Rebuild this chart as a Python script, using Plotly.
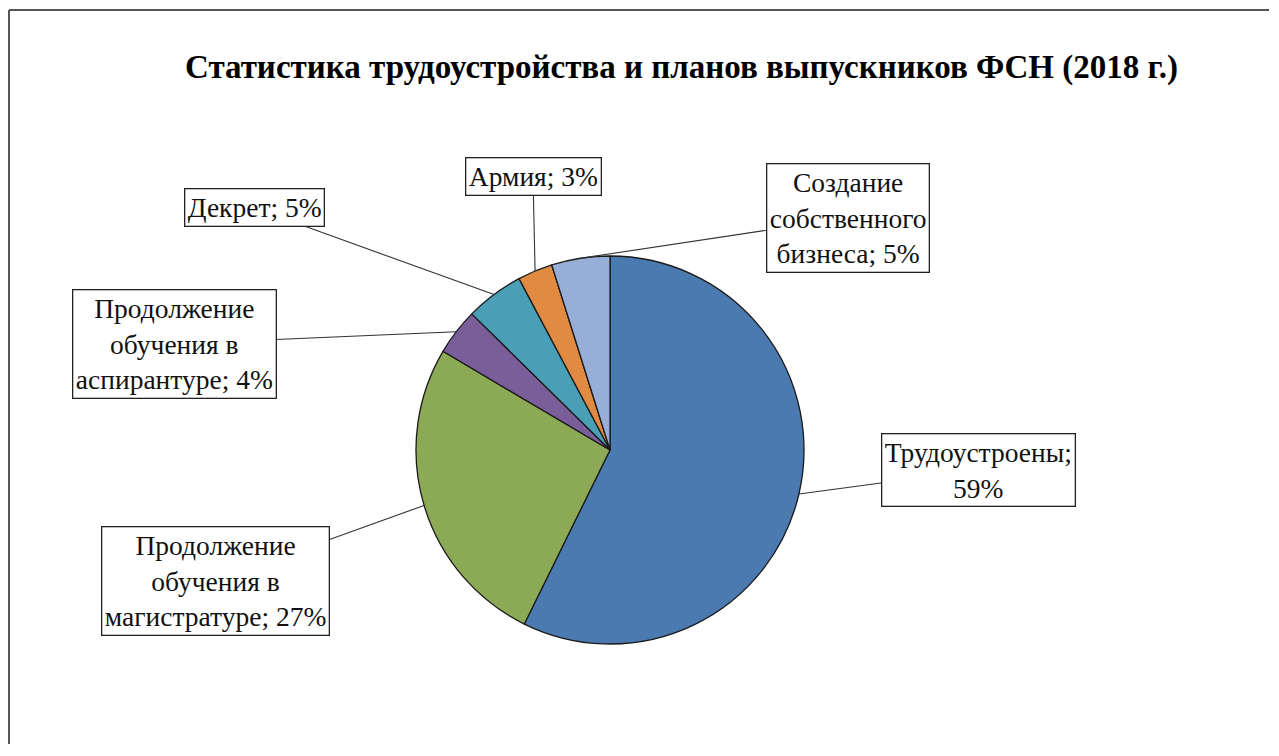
import math
import plotly.graph_objects as go

# ---- data ----
categories = ["Трудоустроены", "Продолжение обучения в магистратуре",
              "Продолжение обучения в аспирантуре", "Декрет", "Армия",
              "Создание собственного бизнеса"]
values = [59, 27, 4, 5, 3, 5]
pct_labels = ["59%", "27%", "4%", "5%", "3%", "5%"]
colors = ["#4A7AAF", "#8CAA55", "#7A5E9A", "#4A9EB5", "#E08A42", "#97AFD6"]
label_texts = ["Трудоустроены;<br>59%",
               "Продолжение<br>обучения в<br>магистратуре; 27%",
               "Продолжение<br>обучения в<br>аспирантуре; 4%",
               "Декрет; 5%", "Армия; 3%",
               "Создание<br>собственного<br>бизнеса; 5%"]

# ---- layout (screen pixels; page body has an 8px margin) ----
OFF = 8
W, H = 1279 - 2 * OFF - 2, 756 - 2 * OFF - 4
cx, cy, R = 610 - OFF, 450 - OFF, 194
label_centers = [(978, 470), (215, 581), (174, 344), (254, 208), (533, 177), (848, 218)]
FONT = "Liberation Serif, Times New Roman, serif"

fig = go.Figure(go.Pie(
    labels=categories,
    values=values,
    sort=False,
    direction="clockwise",
    rotation=0,
    marker=dict(colors=colors, line=dict(color="#1a1a1a", width=1.3)),
    textinfo="none",
    hoverinfo="label+value",
    showlegend=False,
    domain=dict(x=[(cx - R) / W, (cx + R) / W], y=[(H - cy - R) / H, (H - cy + R) / H]),
))

total = sum(values)
annotations = []
cum = 0
for v, txt, (lx, ly) in zip(values, label_texts, label_centers):
    mid = (cum + v / 2) / total * 2 * math.pi
    cum += v
    px = cx + R * math.sin(mid)
    py = cy - R * math.cos(mid)
    lx, ly = lx - OFF, ly - OFF
    annotations.append(dict(
        x=px / W, y=1 - py / H, xref="paper", yref="paper",
        ax=lx - px, ay=ly - py, axref="pixel", ayref="pixel",
        text=txt, showarrow=True, arrowhead=0, arrowwidth=1.1, arrowcolor="#333333",
        font=dict(family=FONT, size=27.5, color="#111111"),
        bgcolor="white", bordercolor="#222222", borderwidth=1.3, borderpad=2.5,
        align="center",
    ))

annotations.append(dict(
    x=(681 - OFF) / W, y=1 - (67 - OFF) / H, xref="paper", yref="paper", showarrow=False,
    text="<b>Статистика трудоустройства и планов выпускников ФСН (2018 г.)</b>",
    font=dict(family=FONT, size=33, color="#000000"),
    xanchor="center", yanchor="middle",
))

bx, by = (9 - OFF) / W, 1 - (10 - OFF) / H
fig.update_layout(
    width=W, height=H,
    margin=dict(l=0, r=0, t=0, b=0),
    paper_bgcolor="white", plot_bgcolor="white",
    annotations=annotations,
    shapes=[
        dict(type="line", xref="paper", yref="paper", x0=bx, x1=1.02, y0=by, y1=by,
             line=dict(color="#555555", width=2)),
        dict(type="line", xref="paper", yref="paper", x0=bx, x1=bx, y0=by, y1=-0.02,
             line=dict(color="#555555", width=2)),
    ],
)

fig.write_html("out.html")
